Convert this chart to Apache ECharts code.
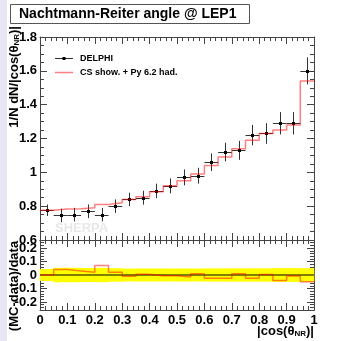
<!DOCTYPE html>
<html>
<head>
<meta charset="utf-8">
<script src="https://cdn.jsdelivr.net/npm/echarts@6/dist/echarts.min.js"></script>
<style>
html, body { margin: 0; padding: 0; background: #fff; }
#chart { width: 345px; height: 341px; }
</style>
</head>
<body>
<div id="chart"></div>
<script>
// bin low edges (bin width 0.05)
var binLow = [0, 0.05, 0.1, 0.15, 0.2, 0.25, 0.3, 0.35, 0.4, 0.45, 0.5, 0.55, 0.6, 0.65, 0.7, 0.75, 0.8, 0.85, 0.9, 0.95];
var binWidth = 0.05;
// DELPHI data
var delphi = [0.776, 0.745, 0.75, 0.77, 0.75, 0.80, 0.84, 0.85, 0.89, 0.92, 0.97, 0.98, 1.06, 1.12, 1.13, 1.22, 1.23, 1.29, 1.29, 1.60];
var delphiErr = [0.034, 0.04, 0.04, 0.04, 0.04, 0.04, 0.04, 0.041, 0.043, 0.044, 0.047, 0.047, 0.052, 0.055, 0.056, 0.06, 0.061, 0.066, 0.066, 0.08];
// SHERPA MC (CS show. + Py 6.2 had.)
var mc = [0.776, 0.783, 0.785, 0.79, 0.81, 0.82, 0.84, 0.855, 0.885, 0.92, 0.95, 0.99, 1.04, 1.09, 1.14, 1.19, 1.23, 1.25, 1.28, 1.54];
// (MC-data)/data
var ratio = [0, 0.04, 0.03, 0.02, 0.07, 0.02, -0.01, 0.005, -0.005, -0.005, -0.015, 0.01, -0.025, -0.025, 0.01, -0.025, 0.003, -0.04, -0.007, -0.05];
// tick labels
var ratioMajor = [-0.2, -0.1, 0, 0.1, 0.2];
var ratioMinor = [-0.24, -0.22, -0.18, -0.16, -0.14, -0.12, -0.08, -0.06, -0.04, -0.02, 0.02, 0.04, 0.06, 0.08, 0.12, 0.14, 0.16, 0.18, 0.22, 0.24];

var FONT = 'Liberation Sans';
var AX = '#444';
var MCCOL = 'rgba(255,0,0,0.5)';

var chart = echarts.init(document.getElementById('chart'));

function xAx(grid, pos, labels) {
    return {
        type: 'value', gridIndex: grid, position: pos, min: 0, max: 1, interval: 0.1,
        axisLine: { show: true, onZero: false, lineStyle: { color: AX, width: 1 } },
        axisTick: { show: true, inside: true, length: 7, lineStyle: { color: AX } },
        minorTick: { show: true, splitNumber: 5, length: 4, lineStyle: { color: AX } },
        splitLine: { show: false },
        axisLabel: {
            show: labels, margin: 4, fontFamily: FONT, fontWeight: 'bold', fontSize: 13, color: '#000',
            formatter: function (v) { return String(+v.toFixed(1)); }
        }
    };
}

function ratioY(pos, vals, len, labels) {
    return {
        type: 'value', gridIndex: 1, position: pos, min: -0.26, max: 0.26,
        axisLine: { show: true, onZero: false, lineStyle: { color: AX } },
        axisTick: { show: true, inside: true, length: len, customValues: vals, lineStyle: { color: AX } },
        minorTick: { show: false },
        splitLine: { show: false },
        axisLabel: {
            show: labels, customValues: vals, margin: 3, fontFamily: FONT, fontWeight: 'bold', fontSize: 13, color: '#000',
            formatter: function (v) { return String(+v.toFixed(1)); }
        }
    };
}

var mcLine = binLow.map(function (x, i) { return [x, mc[i]]; });
mcLine.push([1, mc[mc.length - 1]]);
var ratioLine = binLow.map(function (x, i) { return [x, ratio[i]]; });
ratioLine.push([1, ratio[ratio.length - 1]]);
var dataPts = binLow.map(function (x, i) { return [x + binWidth / 2, delphi[i], delphiErr[i]]; });
var band = binLow.map(function (x, i) { return [x, delphiErr[i] / delphi[i]]; });

chart.setOption({
    animation: false,
    backgroundColor: '#fff',
    grid: [
        { left: 40, right: 31, top: 37, height: 203 },
        { left: 40, right: 31, top: 240, height: 70 }
    ],
    xAxis: [
        xAx(0, 'bottom', false),
        xAx(0, 'top', false),
        xAx(1, 'top', false),
        xAx(1, 'bottom', true)
    ],
    yAxis: [
        {
            type: 'value', gridIndex: 0, position: 'left', min: 0.6, max: 1.8, interval: 0.2,
            axisLine: { show: true, onZero: false, lineStyle: { color: AX } },
            axisTick: { show: true, inside: true, length: 7, lineStyle: { color: AX } },
            minorTick: { show: true, splitNumber: 4, length: 4, lineStyle: { color: AX } },
            splitLine: { show: false },
            axisLabel: { margin: 3, fontFamily: FONT, fontWeight: 'bold', fontSize: 13, color: '#000' }
        },
        {
            type: 'value', gridIndex: 0, position: 'right', min: 0.6, max: 1.8, interval: 0.2,
            axisLine: { show: true, onZero: false, lineStyle: { color: AX } },
            axisTick: { show: true, inside: true, length: 7, lineStyle: { color: AX } },
            minorTick: { show: true, splitNumber: 4, length: 4, lineStyle: { color: AX } },
            splitLine: { show: false },
            axisLabel: { show: false }
        },
        ratioY('left', ratioMajor, 7, true),
        ratioY('right', ratioMajor, 7, false),
        ratioY('left', ratioMinor, 4, false),
        ratioY('right', ratioMinor, 4, false)
    ],
    graphic: [
        { type: 'rect', left: 0, top: 0, shape: { width: 7, height: 341 }, style: { fill: '#e6e6f5' }, z: 0 },
        { type: 'rect', shape: { x: 10.5, y: 4.5, width: 239, height: 19 }, style: { fill: '#fff', stroke: '#555', lineWidth: 1 } },
        { type: 'text', x: 19, y: 14, style: { text: 'Nachtmann-Reiter angle @ LEP1', fill: '#000', font: 'bold 14px ' + FONT, textVerticalAlign: 'middle' } },
        { type: 'text', x: 55, y: 228, z: 1, style: { text: 'SHERPA', fill: '#e8e8e8', font: 'bold 13px ' + FONT, textVerticalAlign: 'middle' } },
        // legend
        { type: 'line', shape: { x1: 55, y1: 58.5, x2: 73, y2: 58.5 }, style: { stroke: '#333', lineWidth: 1 } },
        { type: 'rect', shape: { x: 62.5, y: 57, width: 3, height: 3 }, style: { fill: '#000' } },
        { type: 'text', x: 80, y: 58.5, style: { text: 'DELPHI', fill: '#000', font: 'bold 9px ' + FONT, textVerticalAlign: 'middle' } },
        { type: 'line', shape: { x1: 55, y1: 72.5, x2: 73, y2: 72.5 }, style: { stroke: MCCOL, lineWidth: 1.5 } },
        { type: 'text', x: 80, y: 72.5, style: { text: 'CS show. + Py 6.2 had.', fill: '#000', font: 'bold 9px ' + FONT, textVerticalAlign: 'middle' } },
        // axis titles
        {
            type: 'text', x: 14, y: 26, rotation: Math.PI / 2,
            style: {
                text: '1/N dN/|cos(θ{s|NR})|', fill: '#000', font: 'bold 13px ' + FONT,
                textAlign: 'right', textVerticalAlign: 'middle',
                rich: { s: { fontSize: 8, fontWeight: 'bold', fontFamily: FONT, padding: [6, 0, 0, 0] } }
            }
        },
        {
            type: 'text', x: 14, y: 286, rotation: Math.PI / 2,
            style: { text: '(MC-data)/data', fill: '#000', font: 'bold 13px ' + FONT, textAlign: 'center', textVerticalAlign: 'middle' }
        },
        {
            type: 'text', x: 314, y: 331,
            style: {
                text: '|cos(θ{s|NR})|', fill: '#000', font: 'bold 13px ' + FONT,
                textAlign: 'right', textVerticalAlign: 'middle',
                rich: { s: { fontSize: 8, fontWeight: 'bold', fontFamily: FONT, padding: [6, 0, 0, 0] } }
            }
        }
    ],
    series: [
        {
            type: 'custom', name: 'DELPHI', xAxisIndex: 0, yAxisIndex: 0, z: 3,
            data: dataPts,
            encode: { x: 0, y: 1 },
            renderItem: function (params, api) {
                var x = api.value(0), y = api.value(1), e = api.value(2);
                var c = api.coord([x, y]);
                var t = api.coord([x, y + e]);
                var b = api.coord([x, y - e]);
                var l = api.coord([x - binWidth / 2, y]);
                var r = api.coord([x + binWidth / 2, y]);
                var cx = Math.round(c[0]) + 0.5, cy = Math.round(c[1]) + 0.5;
                return {
                    type: 'group', children: [
                        { type: 'line', shape: { x1: cx, y1: t[1], x2: cx, y2: b[1] }, style: { stroke: '#333', lineWidth: 1 } },
                        { type: 'line', shape: { x1: l[0], y1: cy, x2: r[0], y2: cy }, style: { stroke: '#333', lineWidth: 1 } },
                        { type: 'rect', shape: { x: cx - 1.5, y: cy - 1.5, width: 3, height: 3 }, style: { fill: '#000' } }
                    ]
                };
            }
        },
        {
            type: 'line', name: 'CS show. + Py 6.2 had.', xAxisIndex: 0, yAxisIndex: 0, z: 4,
            step: 'end', data: mcLine, showSymbol: false, symbol: 'none',
            lineStyle: { color: MCCOL, width: 1.5 }
        },
        {
            type: 'custom', xAxisIndex: 3, yAxisIndex: 2, z: 2,
            data: band,
            encode: { x: 0, y: 1 },
            renderItem: function (params, api) {
                var x = api.value(0), e = api.value(1);
                var a = api.coord([x, e]);
                var b = api.coord([x + binWidth, -e]);
                return { type: 'rect', shape: { x: a[0] - 0.3, y: a[1], width: b[0] - a[0] + 0.6, height: b[1] - a[1] }, style: { fill: '#ffff00' } };
            }
        },
        {
            type: 'line', xAxisIndex: 3, yAxisIndex: 2, z: 3, data: [[0, 0], [1, 0]],
            showSymbol: false, symbol: 'none', lineStyle: { color: '#000', width: 1 }
        },
        {
            type: 'line', xAxisIndex: 3, yAxisIndex: 2, z: 4, step: 'end', data: ratioLine,
            showSymbol: false, symbol: 'none', lineStyle: { color: MCCOL, width: 1.5 }
        }
    ]
});
</script>
</body>
</html>
